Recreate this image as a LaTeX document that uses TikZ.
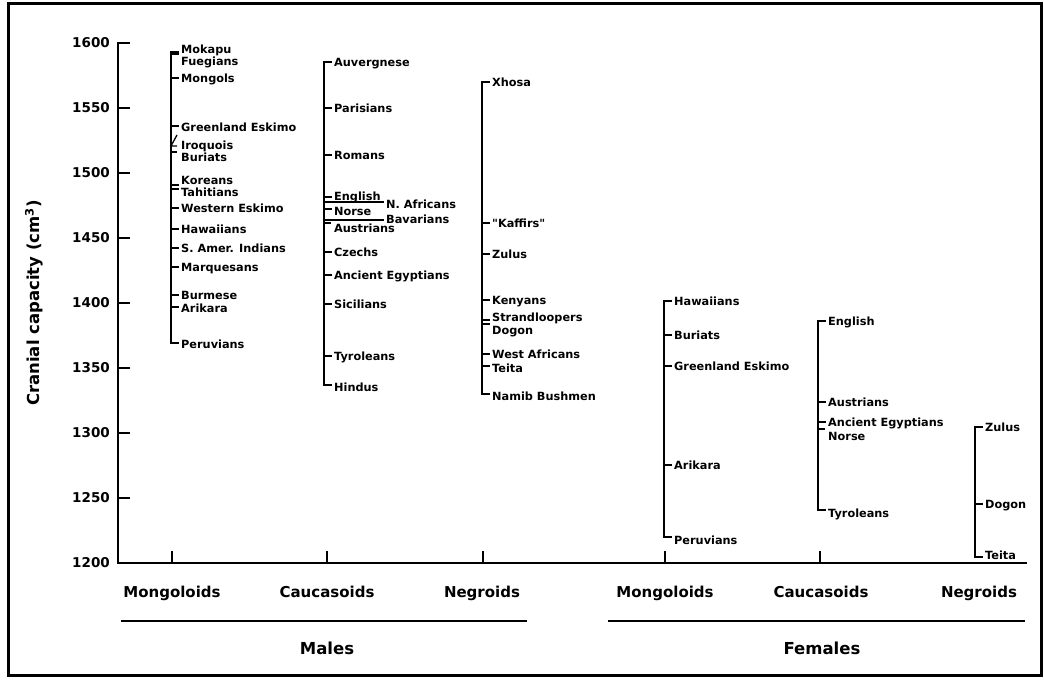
\documentclass[tikz,border=0pt]{standalone}
\usepackage{fontspec}
\setmainfont{DejaVu Sans}
\newfontfamily\rawfont{DejaVu Sans}[Ligatures=TeXOff]

\begin{document}
\begin{tikzpicture}[x=1pt,y=1pt,
		pop/.style={anchor=west,text height=8pt,text depth=0pt,font=\fontsize{11.3}{12}\selectfont\bfseries},
		num/.style={anchor=east,text height=9.6pt,text depth=0pt,font=\fontsize{13.5}{14}\selectfont\bfseries},
		grp/.style={text height=11pt,text depth=0pt,font=\fontsize{15}{16}\selectfont\bfseries},
		sex/.style={text height=12pt,text depth=0pt,font=\fontsize{16.5}{18}\selectfont\bfseries},
		col/.style={line width=2pt},
		tk/.style={line width=1.3pt}]
		\tikzstyle{every node}+=[inner sep=0pt]
		\useasboundingbox (0,0) rectangle (1044,-680);
		\draw [line width=3pt] (8,-3) rectangle (1041,-675);
		% axes
		\draw [line width=2.2pt] (130,-43) -- (118,-43) -- (118,-563) -- (1027,-563);
		\foreach \v/\y in {1600/43,1550/108,1500/173,1450/238,1400/303,1350/368,1300/433,1250/498,1200/563} {
			\draw [tk] (118,-\y) -- (130,-\y);
			\node [num] (n\v) at (110,-\y) {\v};
		}
		\node [num,anchor=center,rotate=90] (ytitle) at (35,-303) {\fontsize{16.5}{18}\selectfont Cranial capacity (cm\textsuperscript{3})};
		\foreach \x in {172,327,483,665,820}
			\draw [tk] (\x,-551) -- (\x,-563);
		% males, Mongoloids
		\draw [col] (179,-52) -- (171,-52) -- (171,-343) -- (179,-343);
		\node [pop] (mm1) at (181,-49) {Mokapu};
		\draw [tk] (171,-54) -- (179,-54);
		\node [pop] (mm2) at (181,-61) {Fuegians};
		\draw [tk] (171,-78) -- (179,-78);
		\node [pop] (mm3) at (181,-78) {Mongols};
		\draw [tk] (171,-126) -- (179,-126);
		\node [pop] (mm4) at (181,-127) {Greenland Eskimo};
		\draw [tk] (177,-135) -- (171,-146) -- (177,-146);
		\node [pop] (mm5) at (181,-145) {Iroquois};
		\draw [tk] (171,-152) -- (177,-152);
		\node [pop] (mm6) at (181,-157) {Buriats};
		\draw [tk] (171,-185) -- (179,-185);
		\node [pop] (mm7) at (181,-180) {Koreans};
		\draw [tk] (171,-189) -- (179,-189);
		\node [pop] (mm8) at (181,-192) {Tahitians};
		\draw [tk] (171,-208) -- (179,-208);
		\node [pop] (mm9) at (181,-208) {Western Eskimo};
		\draw [tk] (171,-229) -- (179,-229);
		\node [pop] (mm10) at (181,-229) {Hawaiians};
		\draw [tk] (171,-248) -- (179,-248);
		\node [pop] (mm11) at (181,-248) {S. Amer. Indians};
		\draw [tk] (171,-267) -- (179,-267);
		\node [pop] (mm12) at (181,-267) {Marquesans};
		\draw [tk] (171,-295) -- (179,-295);
		\node [pop] (mm13) at (181,-295) {Burmese};
		\draw [tk] (171,-307) -- (179,-307);
		\node [pop] (mm14) at (181,-308) {Arikara};
		\node [pop] (mm15) at (181,-344) {Peruvians};
		% males, Caucasoids
		\draw [col] (332,-62) -- (324,-62) -- (324,-385) -- (332,-385);
		\node [pop] (mc1) at (334,-62) {Auvergnese};
		\draw [tk] (324,-108) -- (332,-108);
		\node [pop] (mc2) at (334,-108) {Parisians};
		\draw [tk] (324,-155) -- (332,-155);
		\node [pop] (mc3) at (334,-155) {Romans};
		\draw [tk] (324,-197) -- (332,-197);
		\node [pop] (mc4) at (334,-196) {English};
		\draw [tk] (324,-202) -- (384,-202);
		\node [pop] (mc5) at (386,-204) {N. Africans};
		\draw [tk] (324,-209) -- (332,-209);
		\node [pop] (mc6) at (334,-211) {Norse};
		\draw [tk] (324,-220) -- (384,-220);
		\node [pop] (mc7) at (386,-219) {Bavarians};
		\draw [tk] (324,-223) -- (331,-223);
		\node [pop] (mc8) at (334,-228) {Austrians};
		\draw [tk] (324,-252) -- (332,-252);
		\node [pop] (mc9) at (334,-252) {Czechs};
		\draw [tk] (324,-275) -- (332,-275);
		\node [pop] (mc10) at (334,-275) {Ancient Egyptians};
		\draw [tk] (324,-304) -- (332,-304);
		\node [pop] (mc11) at (334,-304) {Sicilians};
		\draw [tk] (324,-356) -- (332,-356);
		\node [pop] (mc12) at (334,-356) {Tyroleans};
		\node [pop] (mc13) at (334,-387) {Hindus};
		% males, Negroids
		\draw [col] (490,-82) -- (482,-82) -- (482,-394) -- (490,-394);
		\node [pop] (mn1) at (492,-82) {Xhosa};
		\draw [tk] (482,-223) -- (490,-223);
		\node [pop] (mn2) at (492,-223) {\rawfont\bfseries "Kaffirs"};
		\draw [tk] (482,-254) -- (490,-254);
		\node [pop] (mn3) at (492,-254) {Zulus};
		\draw [tk] (482,-300) -- (490,-300);
		\node [pop] (mn4) at (492,-300) {Kenyans};
		\draw [tk] (482,-320) -- (490,-320);
		\node [pop] (mn5) at (492,-317) {Strandloopers};
		\draw [tk] (482,-324) -- (490,-324);
		\node [pop] (mn6) at (492,-330) {Dogon};
		\draw [tk] (482,-354) -- (490,-354);
		\node [pop] (mn7) at (492,-354) {West Africans};
		\draw [tk] (482,-366) -- (490,-366);
		\node [pop] (mn8) at (492,-368) {Teita};
		\node [pop] (mn9) at (492,-396) {Namib Bushmen};
		% females, Mongoloids
		\draw [col] (672,-301) -- (664,-301) -- (664,-537) -- (672,-537);
		\node [pop] (fm1) at (674,-301) {Hawaiians};
		\draw [tk] (664,-335) -- (672,-335);
		\node [pop] (fm2) at (674,-335) {Buriats};
		\draw [tk] (664,-366) -- (672,-366);
		\node [pop] (fm3) at (674,-366) {Greenland Eskimo};
		\draw [tk] (664,-465) -- (672,-465);
		\node [pop] (fm4) at (674,-465) {Arikara};
		\node [pop] (fm5) at (674,-540) {Peruvians};
		% females, Caucasoids
		\draw [col] (826,-321) -- (818,-321) -- (818,-510) -- (826,-510);
		\node [pop] (fc1) at (828,-321) {English};
		\draw [tk] (818,-402) -- (826,-402);
		\node [pop] (fc2) at (828,-402) {Austrians};
		\draw [tk] (818,-422) -- (826,-422);
		\node [pop] (fc3) at (828,-422) {Ancient Egyptians};
		\draw [tk] (818,-429) -- (825,-429);
		\node [pop] (fc4) at (828,-436) {Norse};
		\node [pop] (fc5) at (828,-513) {Tyroleans};
		% females, Negroids
		\draw [col] (983,-427) -- (975,-427) -- (975,-557) -- (983,-557);
		\node [pop] (fn1) at (985,-427) {Zulus};
		\draw [tk] (975,-504) -- (983,-504);
		\node [pop] (fn2) at (985,-504) {Dogon};
		\node [pop] (fn3) at (985,-555) {Teita};
		% group and sex labels
		\node [grp] (gmm) at (172,-592) {Mongoloids};
		\node [grp] (gmc) at (327,-592) {Caucasoids};
		\node [grp] (gmn) at (482,-592) {Negroids};
		\node [grp] (gfm) at (665,-592) {Mongoloids};
		\node [grp] (gfc) at (821,-592) {Caucasoids};
		\node [grp] (gfn) at (979,-592) {Negroids};
		\draw [line width=2.2pt] (121,-621) -- (527,-621);
		\draw [line width=2.2pt] (608,-621) -- (1025,-621);
		\node [sex] (males) at (327,-648) {Males};
		\node [sex] (females) at (822,-648) {Females};
	\end{tikzpicture}
\end{document}
